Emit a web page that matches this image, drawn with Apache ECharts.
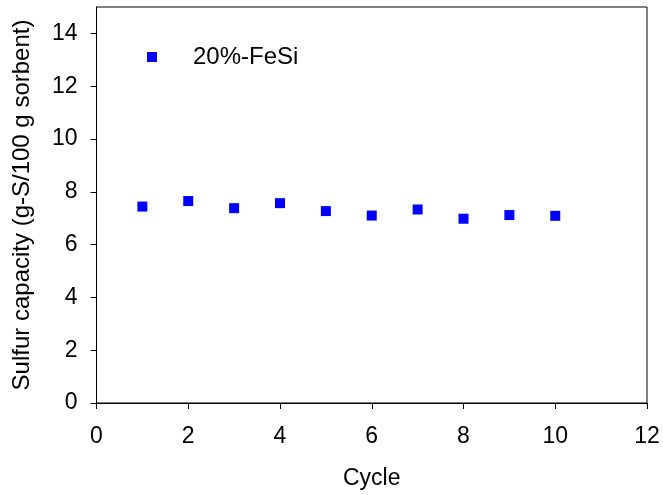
<!DOCTYPE html>
<html><head><meta charset="utf-8">
<script src="https://cdn.jsdelivr.net/npm/echarts@6/dist/echarts.min.js"></script>
<style>html,body{margin:0;padding:0;background:#fff}#c{width:663px;height:495px}</style>
</head><body><div id="c"></div>
<script>
const cycles = [1,2,3,4,5,6,7,8,9,10];
const capacity = [7.44,7.65,7.38,7.57,7.27,7.10,7.33,6.98,7.12,7.09];
const seriesName = '20%-FeSi';
const xTicks = [0,2,4,6,8,10,12];
const yTicks = [0,2,4,6,8,10,12,14];
const font = 'Liberation Sans, Arial, sans-serif';
const chart = echarts.init(document.getElementById('c'), null, {renderer:'canvas'});
chart.setOption({
  animation:false,
  grid:{left:96.5,right:16,top:7,bottom:91,show:true,borderColor:'#000',borderWidth:1},
  legend:{left:142,top:40,itemWidth:10,itemHeight:10,icon:'rect',
    textStyle:{fontFamily:font,fontSize:24,color:'#000',padding:[0,0,0,31]},
    data:[seriesName]},
  xAxis:{type:'value',min:0,max:12,interval:2,
    name:'Cycle',nameLocation:'middle',nameGap:64,
    nameTextStyle:{fontFamily:font,fontSize:23,color:'#000'},
    axisLine:{onZero:false,lineStyle:{color:'#000',width:1}},
    axisTick:{show:true,length:6,lineStyle:{color:'#000'}},
    axisLabel:{fontFamily:font,fontSize:23,color:'#000',margin:22},
    splitLine:{show:false}},
  yAxis:{type:'value',min:0,max:15,interval:1,
    name:'Sulfur capacity (g-S/100 g sorbent)',nameLocation:'middle',nameGap:62,
    nameTextStyle:{fontFamily:font,fontSize:24,color:'#000'},
    axisLine:{show:true,lineStyle:{color:'#000',width:1}},
    axisTick:{show:true,length:6,lineStyle:{color:'#000'},customValues:yTicks},
    axisLabel:{fontFamily:font,fontSize:23,color:'#000',margin:19,customValues:yTicks},
    splitLine:{show:false}},
  series:[{name:seriesName,type:'scatter',symbol:'rect',symbolSize:10,
    itemStyle:{color:'#0000ff',opacity:1},
    data:cycles.map((c,i)=>[c,capacity[i]])}]
});
</script></body></html>
